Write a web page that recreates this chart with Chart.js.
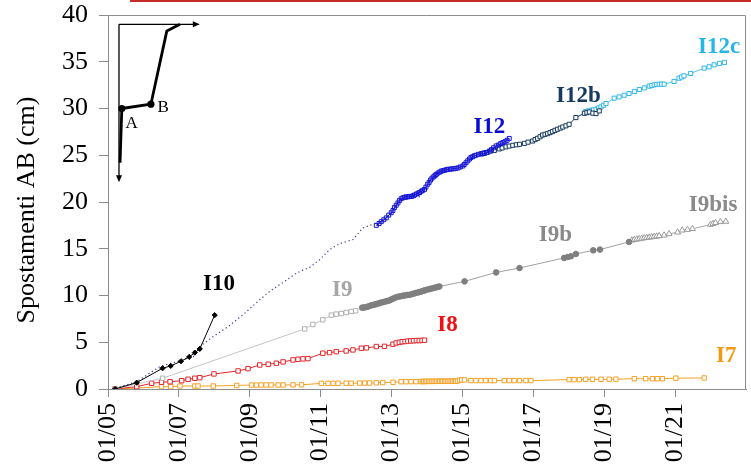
<!DOCTYPE html>
<html>
<head>
<meta charset="utf-8">
<script src="https://cdn.jsdelivr.net/npm/chart.js@4/dist/chart.umd.min.js"></script>
<style>
  html, body { margin: 0; padding: 0; background: #fff; }
  #wrap { position: relative; width: 751px; height: 468px; overflow: hidden; }
  #wrap canvas { position: absolute; left: 0; top: 0; }
  #topRule { position: absolute; left: 130px; top: 0; width: 621px; height: 2px; background: #c62c2a; }
</style>
</head>
<body>
<div id="wrap">
  <canvas id="c" width="751" height="468"></canvas>
  <div id="topRule"></div>
</div>
<script>
// X axis: decimal years, labelled every two years as month/yy
const tickYears  = [2005, 2007, 2009, 2011, 2013, 2015, 2017, 2019, 2021];
const tickLabels = ['01/05', '01/07', '01/09', '01/11', '01/13', '01/15', '01/17', '01/19', '01/21'];
const yTitle = 'Spostamenti AB (cm)';

// Cumulative displacement readings [year, cm] per inclinometer
const i10 = [[2005.20,0.0],[2005.81,0.68],[2006.54,2.22],[2006.77,2.47],[2007.06,2.97],[2007.29,3.43],[2007.45,3.89],[2007.59,4.29],[2008.01,7.90]];

const i12prev = [[2005.22,0.1],[2005.81,0.78],[2006.46,2.39],[2006.94,2.93],[2007.40,3.46],[2007.59,4.54],[2007.97,5.61],[2008.39,6.68],[2008.81,7.94],[2009.28,9.54],[2009.56,10.43],[2009.94,11.40],[2010.32,12.41],[2010.69,13.01],[2010.97,13.83],[2011.25,14.91],[2011.54,15.55],[2011.91,15.98],[2012.19,17.23],[2012.52,17.69],[2012.85,18.20],[2013.05,19.00],[2013.23,20.27],[2013.51,20.34],[2013.84,20.62]];

const i12 = [[2012.57,17.5],[2012.65,17.7],[2012.71,17.9],[2012.78,18.1],[2012.85,18.3],[2012.92,18.6],[2012.99,18.85],[2013.04,19.1],[2013.08,19.4],[2013.13,19.65],[2013.18,19.9],[2013.22,20.15],[2013.27,20.35],[2013.32,20.45],[2013.37,20.5],[2013.41,20.55],[2013.46,20.55],[2013.51,20.6],[2013.56,20.6],[2013.60,20.65],[2013.65,20.75],[2013.70,20.85],[2013.75,20.95],[2013.79,21.0],[2013.84,21.15],[2013.88,21.25],[2013.93,21.35],[2013.97,21.6],[2014.02,21.9],[2014.06,22.1],[2014.10,22.35],[2014.14,22.55],[2014.19,22.7],[2014.23,22.85],[2014.26,22.95],[2014.31,23.1],[2014.36,23.2],[2014.40,23.3],[2014.45,23.35],[2014.50,23.4],[2014.55,23.45],[2014.59,23.5],[2014.65,23.5],[2014.70,23.55],[2014.76,23.55],[2014.82,23.6],[2014.88,23.65],[2014.94,23.75],[2015.01,23.85],[2015.05,24.0],[2015.10,24.2],[2015.15,24.4],[2015.20,24.6],[2015.24,24.75],[2015.29,24.85],[2015.34,24.95],[2015.38,25.0],[2015.45,25.1],[2015.52,25.15],[2015.58,25.2],[2015.62,25.2],[2015.68,25.3],[2015.76,25.45],[2015.82,25.6],[2015.88,25.8],[2015.95,26.0],[2016.02,26.1],[2016.08,26.25],[2016.14,26.35],[2016.20,26.45],[2016.26,26.6],[2016.32,26.8]];

const i12b = [[2015.55,25.15],[2015.62,25.25],[2015.70,25.3],[2015.80,25.45],[2015.90,25.52],[2016.04,25.68],[2016.12,25.78],[2016.23,25.9],[2016.32,25.98],[2016.42,26.06],[2016.52,26.12],[2016.61,26.17],[2016.75,26.27],[2016.85,26.4],[2016.98,26.52],[2017.05,26.68],[2017.12,26.81],[2017.19,26.98],[2017.26,27.16],[2017.33,27.24],[2017.40,27.31],[2017.47,27.42],[2017.54,27.53],[2017.61,27.66],[2017.68,27.78],[2017.76,27.9],[2017.83,28.02],[2017.92,28.15],[2018.01,28.31],[2018.20,29.03],[2018.44,29.49],[2018.51,29.55],[2018.58,29.63],[2018.68,29.5],[2018.77,29.46],[2018.86,29.74]];

const i12c = [[2018.48,29.67],[2018.55,29.74],[2018.63,29.81],[2018.70,29.86],[2018.77,29.92],[2018.84,30.05],[2018.91,30.17],[2018.98,30.35],[2019.05,30.53],[2019.28,31.10],[2019.42,31.24],[2019.56,31.42],[2019.70,31.60],[2019.85,31.82],[2019.99,32.03],[2020.13,32.20],[2020.27,32.39],[2020.34,32.46],[2020.41,32.53],[2020.48,32.57],[2020.55,32.60],[2020.62,32.60],[2020.69,32.60],[2020.97,32.89],[2021.11,33.24],[2021.18,33.36],[2021.25,33.49],[2021.44,33.75],[2021.82,34.32],[2021.96,34.46],[2022.10,34.67],[2022.25,34.82],[2022.39,34.93]];

const i9 = [[2005.20,0.0],[2006.54,1.15],[2010.55,6.43],[2010.78,6.90],[2011.06,7.40],[2011.30,7.90],[2011.44,8.01],[2011.58,8.07],[2011.72,8.18],[2011.86,8.29],[2011.99,8.36]];

const i9b = [[2012.17,8.70],[2012.22,8.72],[2012.27,8.75],[2012.32,8.80],[2012.38,8.88],[2012.43,8.95],[2012.49,9.00],[2012.54,9.05],[2012.60,9.12],[2012.66,9.18],[2012.71,9.25],[2012.77,9.30],[2012.83,9.36],[2012.88,9.42],[2012.94,9.47],[2012.99,9.58],[2013.05,9.68],[2013.11,9.78],[2013.17,9.86],[2013.23,9.90],[2013.28,9.95],[2013.34,9.99],[2013.40,10.02],[2013.45,10.05],[2013.51,10.08],[2013.57,10.14],[2013.62,10.20],[2013.68,10.26],[2013.74,10.32],[2013.79,10.37],[2013.85,10.44],[2013.91,10.52],[2013.96,10.58],[2014.02,10.64],[2014.07,10.69],[2014.13,10.75],[2014.19,10.80],[2014.24,10.86],[2014.30,10.92],[2014.35,10.97],[2015.06,11.51],[2015.95,12.47],[2016.61,12.94],[2017.87,14.02],[2017.97,14.12],[2018.06,14.19],[2018.20,14.44],[2018.69,14.83],[2018.88,14.91],[2019.70,15.73]];

const i9bis = [[2019.78,15.90],[2019.85,15.98],[2019.92,16.02],[2019.99,16.05],[2020.06,16.10],[2020.13,16.16],[2020.20,16.19],[2020.27,16.22],[2020.34,16.26],[2020.41,16.30],[2020.48,16.33],[2020.55,16.37],[2020.69,16.44],[2020.83,16.59],[2021.07,16.76],[2021.20,16.98],[2021.35,17.05],[2021.49,17.13],[2022.00,17.59],[2022.07,17.68],[2022.14,17.77],[2022.28,17.88],[2022.43,17.91]];

const i8 = [[2005.20,0.0],[2005.81,0.25],[2006.23,0.61],[2006.51,0.72],[2006.75,0.78],[2007.08,0.89],[2007.26,1.04],[2007.45,1.15],[2007.59,1.21],[2007.99,1.61],[2008.67,1.93],[2008.95,2.18],[2009.28,2.57],[2009.52,2.65],[2009.75,2.76],[2009.94,2.90],[2010.22,3.11],[2010.36,3.18],[2010.50,3.22],[2010.64,3.25],[2011.06,3.83],[2011.25,3.89],[2011.44,4.00],[2011.72,4.07],[2011.91,4.18],[2012.15,4.36],[2012.29,4.40],[2012.57,4.54],[2012.80,4.56],[2013.04,4.79],[2013.13,4.92],[2013.22,5.00],[2013.30,5.05],[2013.38,5.08],[2013.46,5.12],[2013.54,5.14],[2013.62,5.16],[2013.70,5.18],[2013.78,5.18],[2013.86,5.20],[2013.93,5.22]];

const i7 = [[2005.20,0.0],[2005.81,0.10],[2006.51,0.25],[2006.77,0.25],[2007.03,0.32],[2007.45,0.32],[2007.54,0.32],[2007.97,0.32],[2008.63,0.38],[2009.05,0.42],[2009.19,0.42],[2009.32,0.43],[2009.46,0.43],[2009.60,0.43],[2009.80,0.43],[2009.94,0.43],[2010.22,0.44],[2010.46,0.45],[2011.02,0.60],[2011.21,0.60],[2011.35,0.61],[2011.49,0.61],[2011.72,0.62],[2011.86,0.62],[2012.10,0.63],[2012.24,0.63],[2012.38,0.64],[2012.57,0.66],[2012.75,0.69],[2013.04,0.72],[2013.27,0.78],[2013.41,0.78],[2013.55,0.79],[2013.69,0.79],[2013.83,0.80],[2013.87,0.80],[2013.91,0.81],[2013.96,0.80],[2014.00,0.81],[2014.05,0.82],[2014.09,0.81],[2014.14,0.82],[2014.18,0.82],[2014.23,0.81],[2014.27,0.82],[2014.32,0.83],[2014.36,0.82],[2014.41,0.83],[2014.45,0.83],[2014.50,0.82],[2014.54,0.83],[2014.59,0.84],[2014.63,0.83],[2014.68,0.84],[2014.72,0.84],[2014.77,0.83],[2014.81,0.84],[2014.86,0.85],[2014.92,0.95],[2014.98,0.97],[2015.06,0.97],[2015.24,0.90],[2015.38,0.90],[2015.52,0.90],[2015.66,0.90],[2015.80,0.90],[2015.90,0.90],[2016.18,0.90],[2016.32,0.90],[2016.46,0.90],[2016.61,0.90],[2016.79,0.90],[2016.93,0.90],[2018.01,1.00],[2018.15,1.00],[2018.30,1.00],[2018.48,1.04],[2018.67,1.04],[2018.91,1.04],[2019.14,1.04],[2019.33,1.05],[2019.85,1.10],[2020.17,1.10],[2020.36,1.10],[2020.50,1.10],[2020.64,1.10],[2021.02,1.16],[2021.82,1.18]];

// Series names written beside each curve, with their anchor [year, cm]
const seriesLabels   = ['I10', 'I12', 'I12b', 'I12c', 'I9', 'I9b', 'I9bis', 'I8', 'I7'];
const labelAnchors   = [[2008.13,11.2],[2015.76,27.99],[2018.27,31.31],[2022.24,36.57],[2011.61,10.62],[2017.62,16.51],[2022.07,19.62],[2014.58,6.86],[2022.44,3.54]];
const labelColors    = ['#000000', '#0b0bd2', '#173a60', '#27b6e8', '#a6a6a6', '#8a8a8a', '#8a8a8a', '#ee1111', '#f39a14'];

// Sketch of the A-B displacement profile in the upper-left corner
const sketchAxisV = [[2005.31,39.0],[2005.31,22.1]];
const sketchAxisH = [[2005.31,39.0],[2007.59,39.0]];
const sketchPath  = [[2005.34,24.2],[2005.39,30.0],[2006.21,30.46],[2006.66,38.3],[2007.03,39.0]];
const sketchNodes = [[2005.39,30.0],[2006.21,30.46]];
const sketchNames = ['A', 'B'];
const sketchNameAt = [[2005.67,28.42],[2006.56,30.10]];

const SERIF = "'Liberation Serif', 'Times New Roman', serif";
const AXIS = '#8c8c8c';
const pts = arr => arr.map(([x, y]) => ({ x, y }));

function series(data, color, opts) {
  return Object.assign({
    data: pts(data),
    showLine: true,
    borderColor: color,
    borderWidth: 1,
    pointStyle: 'rect',
    pointRadius: 3.1,
    pointBorderWidth: 1,
    pointBorderColor: color,
    pointBackgroundColor: '#ffffff',
    backgroundColor: color,
    tension: 0
  }, opts || {});
}

const framePlugin = {
  id: 'frame',
  afterDraw(chart) {
    const { ctx, chartArea: a } = chart;
    ctx.save();
    ctx.strokeStyle = AXIS;
    ctx.lineWidth = 1;
    ctx.beginPath();
    ctx.moveTo(a.left, a.top + 0.5);
    ctx.lineTo(a.right - 0.5, a.top + 0.5);
    ctx.lineTo(a.right - 0.5, a.bottom);
    ctx.stroke();
    // vertical axis title, centred slightly below the middle of the axis
    ctx.fillStyle = '#000';
    ctx.font = '26px ' + SERIF;
    ctx.textAlign = 'center';
    ctx.textBaseline = 'middle';
    ctx.translate(27, (a.top + a.bottom) / 2 + 8);
    ctx.rotate(-Math.PI / 2);
    ctx.fillText(yTitle, 0, 0);
    ctx.restore();
  }
};

function arrowHead(ctx, tx, ty, dx, dy) {
  const len = 7, half = 3;
  const px = -dy, py = dx;
  ctx.beginPath();
  ctx.moveTo(tx, ty);
  ctx.lineTo(tx - dx * len + px * half, ty - dy * len + py * half);
  ctx.lineTo(tx - dx * len - px * half, ty - dy * len - py * half);
  ctx.closePath();
  ctx.fill();
}

const notesPlugin = {
  id: 'notes',
  afterDatasetsDraw(chart) {
    const { ctx, scales: { x, y } } = chart;
    const P = ([a, b]) => [x.getPixelForValue(a), y.getPixelForValue(b)];
    ctx.save();

    // curve names
    ctx.font = 'bold 23px ' + SERIF;
    ctx.textAlign = 'center';
    ctx.textBaseline = 'middle';
    seriesLabels.forEach((t, i) => {
      const [px, py] = P(labelAnchors[i]);
      ctx.fillStyle = labelColors[i];
      ctx.fillText(t, px, py);
    });

    // profile sketch
    ctx.strokeStyle = '#000';
    ctx.fillStyle = '#000';
    ctx.lineWidth = 1.3;
    const [v0x, v0y] = P(sketchAxisV[0]), [v1x, v1y] = P(sketchAxisV[1]);
    ctx.beginPath(); ctx.moveTo(v0x, v0y); ctx.lineTo(v1x, v1y - 5); ctx.stroke();
    arrowHead(ctx, v1x, v1y, 0, 1);
    const [h0x, h0y] = P(sketchAxisH[0]), [h1x, h1y] = P(sketchAxisH[1]);
    ctx.beginPath(); ctx.moveTo(h0x, h0y); ctx.lineTo(h1x - 5, h1y); ctx.stroke();
    arrowHead(ctx, h1x, h1y, 1, 0);

    ctx.lineWidth = 2.8;
    ctx.lineJoin = 'round';
    ctx.beginPath();
    sketchPath.forEach((p, i) => {
      const [px, py] = P(p);
      if (i === 0) ctx.moveTo(px, py); else ctx.lineTo(px, py);
    });
    ctx.stroke();
    sketchNodes.forEach(p => {
      const [px, py] = P(p);
      ctx.beginPath(); ctx.arc(px, py, 3.6, 0, Math.PI * 2); ctx.fill();
    });
    ctx.font = '17px ' + SERIF;
    sketchNames.forEach((t, i) => {
      const [px, py] = P(sketchNameAt[i]);
      ctx.fillText(t, px, py);
    });
    ctx.restore();
  }
};

new Chart(document.getElementById('c'), {
  type: 'scatter',
  data: {
    datasets: [
      series(i10, '#000000', { pointStyle: 'rectRot', pointRadius: 2.6, pointBackgroundColor: '#000000' }),
      series(i12, '#1414d4', { pointBackgroundColor: 'rgba(255,255,255,0)', pointRadius: 2.8 }),
      series(i12b, '#173a60', { pointRadius: 2.9 }),
      series(i12c, '#2fb7e8', { pointRadius: 2.9, borderWidth: 0.8 }),
      series(i12prev, '#3a3a8e', { pointRadius: 0, borderWidth: 1.2, borderDash: [1.2, 2.8] }),
      series(i9b, '#7f7f7f', { pointStyle: 'circle', pointRadius: 2.8, pointBackgroundColor: '#7f7f7f', borderColor: '#a0a0a0' }),
      series(i9bis, '#9a9a9a', { pointStyle: 'triangle', pointRadius: 3.5, borderColor: '#a8a8a8' }),
      series(i9, '#b0b0b0', { borderColor: '#c4c4c4' }),
      series(i8, '#e2262b'),
      series(i7, '#f4a024')
    ]
  },
  options: {
    responsive: false,
    animation: false,
    layout: { padding: { top: 15, right: 3, left: 0, bottom: 0 } },
    plugins: { legend: { display: false }, tooltip: { enabled: false } },
    scales: {
      x: {
        type: 'linear',
        min: 2005,
        max: 2023,
        afterBuildTicks: s => { s.ticks = tickYears.map(v => ({ value: v })); },
        afterFit: s => { s.height = 79; },
        ticks: {
          autoSkip: false,
          minRotation: 90,
          maxRotation: 90,
          padding: 6,
          color: '#000',
          font: { family: SERIF, size: 26 },
          callback: (v, i) => tickLabels[i]
        },
        grid: { drawOnChartArea: false, tickLength: 8, color: AXIS },
        border: { color: AXIS }
      },
      y: {
        min: 0,
        max: 40,
        afterFit: s => { s.width = 108; },
        ticks: { stepSize: 5, padding: 11, color: '#000', font: { family: SERIF, size: 26, lineHeight: 0.3 } },
        grid: { drawOnChartArea: false, tickLength: 9, color: AXIS },
        border: { color: AXIS }
      }
    }
  },
  plugins: [framePlugin, notesPlugin]
});
</script>
</body>
</html>
